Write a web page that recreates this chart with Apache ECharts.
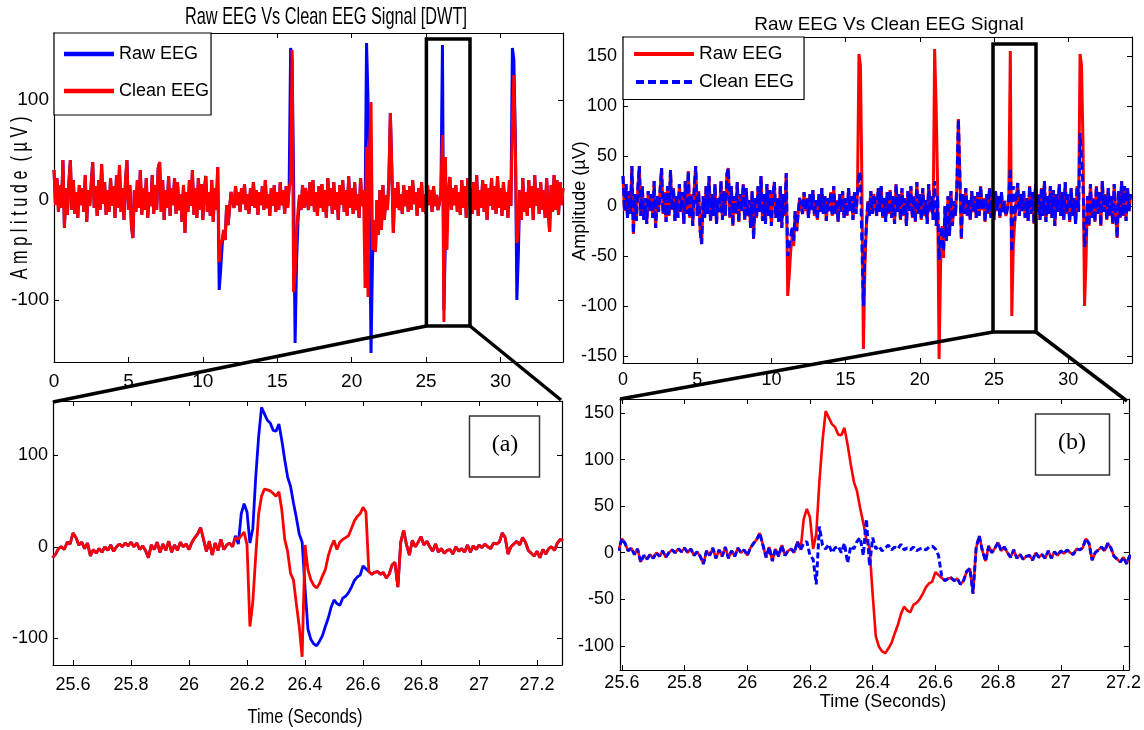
<!DOCTYPE html>
<html>
<head>
<meta charset="utf-8">
<title>Raw EEG Vs Clean EEG</title>
<script src="https://cdn.jsdelivr.net/npm/echarts@6.0.0/dist/echarts.min.js"></script>
<style>
    html, body { margin: 0; padding: 0; background: #fff; }
    #main { width: 1144px; height: 730px; }
</style>
</head>
<body>
<div id="main"></div>
<script type="text/javascript">
    // ---- whole record, one sample every 0.1 s from 0 to 34.2 s ----
    var topStart = 0, topStep = 0.1;
    var rawTop = [
        30,-5,22,-12,15,-8,40,-28,12,-15,
        18,40,-10,20,-14,8,-18,15,-5,12,
        -12,25,-22,10,-6,16,38,-8,14,-16,
        20,-10,36,-4,18,-15,10,-12,22,-6,
        14,-18,25,-8,35,-12,12,-20,18,40,
        -10,15,-25,-38,10,-12,20,-8,30,-15,
        12,-10,22,-18,8,-6,25,-14,15,-10,
        32,38,-12,20,-20,10,-8,24,-16,12,
        -5,22,-14,18,-10,6,-22,15,-33,8,
        -12,20,-6,30,-15,12,-18,22,-10,16,
        -20,10,24,-12,8,-16,20,-22,12,-10,
        33,-90,-70,-45,-30,-40,-5,-25,-8,8,
        10,-8,14,-5,8,-12,12,-4,16,-10,
        6,-14,12,-6,18,-8,10,-15,8,-5,
        14,-10,20,-8,6,-16,12,-6,15,-12,
        8,-10,18,-5,10,-14,14,-8,12,152,
        140,20,-143,-60,-20,5,-10,15,-8,12,
        12,-10,18,-6,20,-12,8,-16,14,-8,
        16,-12,10,-18,22,-6,12,-14,18,-10,
        8,-20,15,-5,20,-12,10,-16,24,-8,
        12,-14,18,-10,6,-18,22,-6,10,-14,
        157,100,20,-153,-60,-20,-52,0,-35,10,
        -30,15,-20,5,-10,20,87,30,-33,12,
        -8,18,-10,6,-14,15,-6,10,-12,14,
        -10,20,-4,8,-16,12,-8,18,-12,6,
        -14,15,-5,10,-12,14,-6,5,-10,-3,
        10,155,-110,-40,-15,8,23,-10,12,-5,
        15,-12,8,-15,20,-8,14,-18,22,-6,
        12,-14,18,-10,25,-16,10,-8,20,-12,
        16,-20,12,-6,22,-10,14,-14,24,-8,
        12,-16,18,-10,8,-18,20,-6,152,140,
        60,-100,-55,10,-20,22,-12,8,-16,20,
        -8,14,-20,25,-6,12,-14,18,-10,10,
        -18,22,-8,-32,15,-12,25,-10,20,-15,
        18,-5,12
    ];
    // clean signal after DWT (left panel)
    var dwtTop = [
        30,-5,22,-12,15,-8,40,-28,12,-15,
        18,40,-10,20,-14,8,-18,15,-5,12,
        -12,25,-22,10,-6,16,38,-8,14,-16,
        20,-10,36,-4,18,-15,10,-12,22,-6,
        14,-18,25,-8,35,-12,12,-20,18,40,
        -10,15,-25,-38,10,-12,20,-8,30,-15,
        12,-10,22,-18,8,-6,25,-14,15,-10,
        32,38,-12,20,-20,10,-8,24,-16,12,
        -5,22,-14,18,-10,6,-22,15,-33,8,
        -12,20,-6,30,-15,12,-18,22,-10,16,
        -20,10,24,-12,8,-16,20,-22,12,-10,
        33,-62,-45,-40,-30,-40,-5,-25,-8,8,
        10,-8,14,-5,8,-12,12,-4,16,-10,
        6,-14,12,-6,18,-8,10,-15,8,-5,
        14,-10,20,-8,6,-16,12,-6,15,-12,
        8,-10,18,-5,10,-14,14,-8,12,20,
        150,-92,-73,-30,-10,5,-10,15,-8,12,
        12,-10,18,-6,20,-12,8,-16,14,-8,
        16,-12,10,-18,22,-6,12,-14,18,-10,
        8,-20,15,-5,20,-12,10,-16,24,-8,
        12,-14,18,-10,6,-18,22,-6,10,-88,
        53,-97,45,98,-50,-20,-52,0,-35,10,
        -30,15,-20,5,-10,20,87,30,-33,12,
        -8,18,-10,6,-14,15,-6,10,-12,14,
        -10,20,-4,8,-16,12,-8,18,-12,6,
        -14,15,-5,10,-12,14,-6,5,-10,-3,
        10,65,-122,43,-50,8,23,-10,12,-5,
        15,-12,8,-15,20,-8,14,-18,22,-6,
        12,-14,18,-10,25,-16,10,-8,20,-12,
        16,-20,12,-6,22,-10,14,-14,24,-8,
        12,-16,18,-10,8,-18,20,-6,75,125,
        47,-43,-30,10,-20,22,-12,8,-16,20,
        -8,14,-20,25,-6,12,-14,18,-10,10,
        -18,22,-8,-32,15,-12,25,-10,20,-15,
        18,-5,12
    ];
    // clean signal of the other method (right panel)
    var altTop = [
        30,-5,22,-12,15,-8,40,-28,12,-15,
        18,40,-10,20,-14,8,-18,15,-5,12,
        -12,25,-22,10,-6,16,38,-8,14,-16,
        20,-10,36,-4,18,-15,10,-12,22,-6,
        14,-18,25,-8,35,-12,12,-20,18,40,
        -10,15,-25,-38,10,-12,20,-8,30,-15,
        12,-10,22,-18,8,-6,25,-14,15,-10,
        32,38,-12,20,-20,10,-8,24,-16,12,
        -5,22,-14,18,-10,6,-22,15,-33,8,
        -12,20,-6,30,-15,12,-18,22,-10,16,
        -20,10,24,-12,8,-16,20,-22,12,-10,
        33,-50,-40,-30,-20,-35,-5,-25,-8,8,
        10,-8,14,-5,8,-12,12,-4,16,-10,
        6,-14,12,-6,18,-8,10,-15,8,-5,
        14,-10,20,-8,6,-16,12,-6,15,-12,
        8,-10,18,-5,10,-14,14,-8,12,34,
        30,-40,-100,-45,-20,5,-10,15,-8,12,
        12,-10,18,-6,20,-12,8,-16,14,-8,
        16,-12,10,-18,22,-6,12,-14,18,-10,
        8,-20,15,-5,20,-12,10,-16,24,-8,
        12,-14,18,-10,6,-18,22,-6,10,-14,
        25,-20,10,-54,-30,-20,-45,0,-35,10,
        -30,15,-20,5,-10,20,87,30,-33,12,
        -8,18,-10,6,-14,15,-6,10,-12,14,
        -10,20,-4,8,-16,12,-8,18,-12,6,
        -14,15,-5,10,-12,14,-6,5,-10,-3,
        10,38,-46,20,-15,8,23,-10,12,-5,
        15,-12,8,-15,20,-8,14,-18,22,-6,
        12,-14,18,-10,25,-16,10,-8,20,-12,
        16,-20,12,-6,22,-10,14,-14,24,-8,
        12,-16,18,-10,8,-18,20,-6,73,45,
        20,-41,-30,10,-20,22,-12,8,-16,20,
        -8,14,-20,25,-6,12,-14,18,-10,10,
        -18,22,-8,-32,15,-12,25,-10,20,-15,
        18,-5,12
    ];

    // ---- zoomed part, one sample every 0.01 s from 25.53 to 27.29 s ----
    var zoomStart = 25.53, zoomStep = 0.01;
    var rawZoom = [
        -12,-8,-2,0,-3,5,3,15,10,2,
        5,-2,4,-10,-3,-7,-2,-6,0,-4,
        2,-5,0,3,0,4,1,5,0,4,
        -3,1,-4,-12,2,-3,5,-6,3,-4,
        6,-6,2,-4,5,0,3,-3,5,10,
        14,21,8,-5,6,-9,4,-4,8,-3,
        2,4,0,12,3,36,47,38,4,20,
        76,120,152,145,138,135,127,126,134,116,
        95,76,66,48,32,14,5,-45,-90,-101,
        -106,-108,-103,-97,-87,-78,-66,-58,-62,-64,
        -56,-54,-50,-44,-37,-33,-31,-21,-24,-27,
        -30,-28,-27,-30,-28,-34,-30,-20,-17,-44,
        5,18,2,-9,7,0,5,11,2,6,
        0,-5,3,-6,-2,-7,-4,-3,-8,0,
        -5,-2,-6,2,-6,1,-3,2,-1,3,
        0,-2,4,3,5,15,10,-8,0,3,
        6,2,10,5,-4,-7,-10,-5,-12,-3,
        -8,-2,0,-4,4,8,7
    ];
    var dwtZoom = [
        -12,-8,-2,0,-3,5,3,15,10,2,
        5,-2,4,-10,-3,-7,-2,-6,0,-4,
        2,-5,0,3,0,4,1,5,0,4,
        -3,1,-4,-12,2,-3,5,-6,3,-4,
        6,-6,2,-4,5,0,3,-3,5,10,
        14,21,8,-5,6,-9,4,-4,8,-3,
        2,4,0,10,8,12,16,2,-87,-60,
        -10,36,55,63,62,61,58,55,60,40,
        8,-5,-29,-36,-62,-87,-120,2,-25,-36,
        -42,-45,-40,-32,-25,-10,0,7,-3,5,
        8,10,12,20,28,33,36,43,38,-27,
        -30,-28,-27,-30,-28,-34,-30,-20,-17,-44,
        5,18,2,-9,7,0,5,11,2,6,
        0,-5,3,-6,-2,-7,-4,-3,-8,0,
        -5,-2,-6,2,-6,1,-3,2,-1,3,
        0,-2,4,3,5,15,10,-8,0,3,
        6,2,10,5,-4,-7,-10,-5,-12,-3,
        -8,-2,0,-4,4,8,7
    ];
    var altZoom = [
        -12,-8,-2,0,-3,5,3,15,10,2,
        5,-2,4,-10,-3,-7,-2,-6,0,-4,
        2,-5,0,3,0,4,1,5,0,4,
        -3,1,-4,-12,2,-3,5,-6,3,-4,
        6,-6,2,-4,5,0,3,-3,5,10,
        14,21,8,-5,6,-9,4,-4,8,-3,
        2,4,0,12,3,10,12,-3,-7,-34,
        28,8,4,9,0,5,7,0,10,-11,
        7,4,12,16,-3,36,-14,16,4,7,
        2,5,8,3,6,4,9,3,5,3,
        6,2,4,5,3,6,7,4,-3,-25,
        -30,-28,-27,-30,-28,-34,-30,-20,-17,-44,
        5,18,2,-9,7,0,5,11,2,6,
        0,-5,3,-6,-2,-7,-4,-3,-8,0,
        -5,-2,-6,2,-6,1,-3,2,-1,3,
        0,-2,4,3,5,15,10,-8,0,3,
        6,2,10,5,-4,-7,-10,-5,-12,-3,
        -8,-2,0,-4,4,8,7
    ];

    var SANS = '"Liberation Sans", Arial, sans-serif';
    var BLUE = '#0000ff', RED = '#ff0000';
    var DASH_ICON = 'path://M0,0h8v4h-8zM12,0h8v4h-8zM24,0h8v4h-8zM36,0h8v4h-8zM48,0h8v4h-8z';

    function pairs(start, step, vals) {
        return vals.map(function (v, i) { return [+(start + i * step).toFixed(2), v]; });
    }

    // only print labels that sit on the nice step
    function tickLabel(step) {
        return function (v) {
            var k = v / step;
            return Math.abs(k - Math.round(k)) < 1e-6 ? String(+v.toFixed(2)) : '';
        };
    }

    // main axis + mirrored axis (matlab box with inner ticks)
    function axes(dim, grid, min, max, split, step, size, margin) {
        var base = {
            type: 'value', gridIndex: grid, min: min, max: max, splitNumber: split,
            axisLine: { show: true, onZero: false, lineStyle: { color: '#000', width: 1.2 } },
            axisTick: { show: true, inside: true, length: 5, lineStyle: { color: '#000', width: 1 } },
            splitLine: { show: false }
        };
        var main = Object.assign({}, base, {
            position: dim === 'x' ? 'bottom' : 'left',
            axisLabel: { color: '#000', fontFamily: SANS, fontSize: size, margin: margin,
                formatter: tickLabel(step), showMinLabel: true, showMaxLabel: true }
        });
        var mirror = Object.assign({}, base, {
            position: dim === 'x' ? 'top' : 'right',
            axisLabel: { show: false }
        });
        return [main, mirror];
    }

    function line(name, xi, data, color, width, dash) {
        return {
            name: name, type: 'line', xAxisIndex: xi, yAxisIndex: xi,
            data: data, symbol: 'none', clip: true, animation: false,
            lineStyle: { color: color, width: width, type: dash || 'solid' },
            itemStyle: { color: color }
        };
    }

    // text helper, sx squeezes the text along its own direction
    function txt(x, y, text, size, sx, rot, family) {
        return { type: 'text', x: x, y: y, rotation: rot || 0, scaleX: sx || 1, z: 100,
            style: { text: text, font: size + 'px ' + (family || SANS), fill: '#000',
                textAlign: 'center', textVerticalAlign: 'middle', align: 'center', verticalAlign: 'middle' } };
    }
    function box(x, y, w, h, color, lw) {
        return { type: 'rect', z: 100, shape: { x: x, y: y, width: w, height: h },
            style: { fill: color === '#000' ? null : '#fff', stroke: color, lineWidth: lw } };
    }
    function seg(x1, y1, x2, y2) {
        return { type: 'line', z: 100, shape: { x1: x1, y1: y1, x2: x2, y2: y2 },
            style: { stroke: '#000', lineWidth: 3.5 } };
    }

    var myChart = echarts.init(document.getElementById('main'), null, { renderer: 'canvas' });

    myChart.setOption({
        backgroundColor: '#fff',
        animation: false,
        grid: [
            { left: 54, top: 33, width: 509, height: 329 },
            { left: 623, top: 37, width: 509, height: 326 },
            { left: 53, top: 401, width: 509, height: 264 },
            { left: 620, top: 399, width: 509, height: 271 }
        ],
        xAxis: [].concat(
            axes('x', 0, 0, 34.2, 5, 5, 19, 10),
            axes('x', 1, 0, 34.3, 5, 5, 18, 8),
            axes('x', 2, 25.531, 27.286, 8, 0.2, 18, 11),
            axes('x', 3, 25.594, 27.217, 8, 0.2, 18, 4)
        ),
        yAxis: [].concat(
            axes('y', 0, -162, 167, 3, 100, 19, 5),
            axes('y', 1, -157, 169, 5, 50, 18, 6),
            axes('y', 2, -129, 159, 3, 100, 18, 5),
            axes('y', 3, -126, 165, 5, 50, 18, 6)
        ),
        legend: [
            {
                data: [{ name: 'Raw EEG', icon: 'rect' }, { name: 'Clean EEG', icon: 'rect' }],
                orient: 'vertical', left: 54, top: 33,
                padding: [12, 2, 15, 10], itemGap: 19, itemWidth: 50, itemHeight: 4.5,
                borderColor: '#000', borderWidth: 1.2, backgroundColor: '#fff',
                selectedMode: false, z: 50,
                textStyle: { fontFamily: SANS, fontSize: 18, color: '#000' }
            },
            {
                data: [{ name: 'Raw EEG (b)', icon: 'rect' }, { name: 'Clean EEG (b)', icon: DASH_ICON }],
                orient: 'vertical', left: 623, top: 37,
                padding: [7.5, 10, 8, 11], itemGap: 9, itemWidth: 60, itemHeight: 4,
                borderColor: '#000', borderWidth: 1.2, backgroundColor: '#fff',
                selectedMode: false, z: 50,
                formatter: function (n) { return n.replace(' (b)', ''); },
                textStyle: { fontFamily: SANS, fontSize: 19, color: '#000' }
            }
        ],
        series: [
            line('Raw EEG', 0, pairs(topStart, topStep, rawTop), BLUE, 3),
            line('Clean EEG', 0, pairs(topStart, topStep, dwtTop), RED, 3),
            line('Raw EEG (b)', 2, pairs(topStart, topStep, rawTop), RED, 3),
            line('Clean EEG (b)', 2, pairs(topStart, topStep, altTop), BLUE, 3, [8, 4]),
            line('Raw zoom (a)', 4, pairs(zoomStart, zoomStep, rawZoom), BLUE, 2.8),
            line('Clean zoom (a)', 4, pairs(zoomStart, zoomStep, dwtZoom), RED, 2.8),
            line('Raw zoom (b)', 6, pairs(zoomStart, zoomStep, rawZoom), RED, 2.6),
            line('Clean zoom (b)', 6, pairs(zoomStart, zoomStep, altZoom), BLUE, 3, [6, 3])
        ],
        graphic: [
            txt(326, 17, 'Raw EEG Vs Clean EEG Signal [DWT]', 24, 0.68),
            txt(889, 25, 'Raw EEG Vs Clean EEG Signal', 19),
            txt(20, 198, 'A m p l i t u d e  ( \u00b5 V )', 24, 0.68, Math.PI / 2),
            txt(580, 201, 'Amplitude (\u00b5V)', 18, 1, Math.PI / 2),
            txt(305, 717, 'Time (Seconds)', 21, 0.78),
            txt(883, 702, 'Time (Seconds)', 18),
            box(469.5, 416, 70, 61, '#333', 1.5),
            txt(505, 445, '(a)', 24, 1, 0, '"Liberation Serif", serif'),
            box(1035.5, 414, 74, 61, '#333', 1.5),
            txt(1072, 443, '(b)', 24, 1, 0, '"Liberation Serif", serif'),
            box(426.4, 39, 43.6, 287, '#000', 3.5),
            box(993, 44, 43, 288, '#000', 3.5),
            seg(426.4, 326, 53, 402),
            seg(470, 326, 561, 400),
            seg(993, 332, 620, 399),
            seg(1036, 332, 1127, 401)
        ]
    });
</script>
</body>
</html>
